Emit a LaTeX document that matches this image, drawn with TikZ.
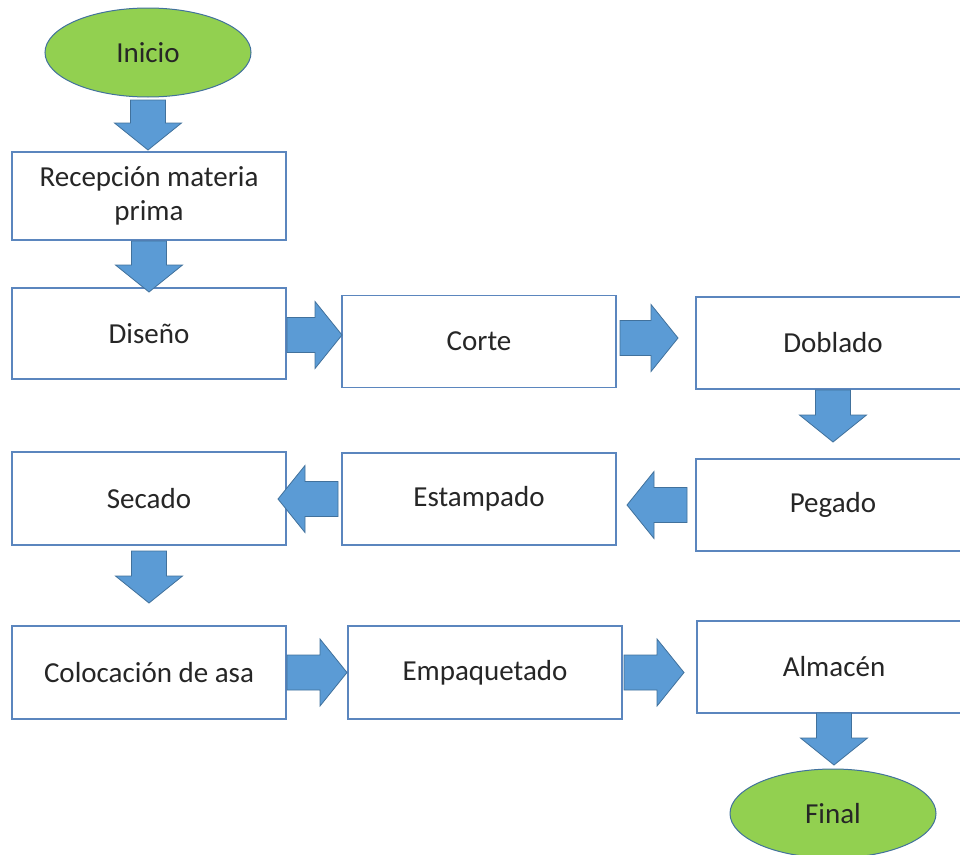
\documentclass[tikz,border=0pt]{standalone}
\usepackage{fontspec}
\setmainfont{Carlito}
\usetikzlibrary{positioning}
\usetikzlibrary{calc}
\usetikzlibrary{shapes.geometric}

\definecolor{boxedge}{HTML}{5B86BE}
\definecolor{arrowblue}{HTML}{5B9BD5}
\definecolor{arrowedge}{HTML}{41719C}
\definecolor{termgreen}{HTML}{92D050}

\tikzset{
    gap start/.store in=\gapstart, gap end/.store in=\gapend,
    gap start=0, gap end=0,
    box/.style={rectangle, draw=boxedge, line width=1.3pt, fill=white, minimum width=274pt, minimum height=92pt, inner sep=0pt, outer sep=0pt, align=center, text=black!85},
    term/.style={ellipse, draw=arrowedge, line width=1pt, fill=termgreen, minimum width=206pt, minimum height=89pt, inner sep=0pt, outer sep=0pt, text=black!85},
    blockarrow/.style={draw=arrowedge, fill=arrowblue, line width=0.8pt,
        to path={let \p1=(\tikztostart), \p2=(\tikztotarget),
            \n1={atan2(\y2-\y1,\x2-\x1)}, \n2={veclen(\x2-\x1,\y2-\y1)} in
            ([shift={(\p1)},rotate=\n1]\gapstart,17.5)
            -- ([shift={(\p1)},rotate=\n1]{\n2-\gapend-27},17.5)
            -- ([shift={(\p1)},rotate=\n1]{\n2-\gapend-27},33.5)
            -- ([shift={(\p1)},rotate=\n1]{\n2-\gapend},0)
            -- ([shift={(\p1)},rotate=\n1]{\n2-\gapend-27},-33.5)
            -- ([shift={(\p1)},rotate=\n1]{\n2-\gapend-27},-17.5)
            -- ([shift={(\p1)},rotate=\n1]\gapstart,-17.5)
            -- cycle}}
}

\begin{document}
\begin{tikzpicture}[x=1pt, y=1pt, font=\fontsize{29pt}{34pt}\selectfont]
        \useasboundingbox (0,0) rectangle (960,-854);
        \clip (0,0) rectangle (960,-854);
        \node[term] (inicio) at (148,-52.5) {Inicio};
        \node[box, minimum height=88pt, below = 55pt of inicio, xshift=1pt] (recep) {Recepción materia\\prima};
        \node[box, minimum height=91pt, below = 48pt of recep] (diseno) {Diseño};
        \node[box, right = 56pt of diseno, yshift=-8pt] (corte) {Corte};
        \node[box, right = 80pt of corte, yshift=-1.5pt] (doblado) {Doblado};
        \node[box, below = 70pt of doblado] (pegado) {Pegado};
        \node[box, left = 80pt of pegado, yshift=6pt] (estampado) {Estampado};
        \node[box, minimum height=93pt, left = 56pt of estampado, yshift=0.5pt] (secado) {Secado};
        \node[box, minimum height=93pt, below = 81pt of secado] (coloc) {Colocación de asa};
        \node[box, minimum height=93pt, right = 62pt of coloc] (empaq) {Empaquetado};
        \node[box, right = 75pt of empaq, yshift=5.5pt] (almacen) {Almacén};
        \node[term, below = 56pt of almacen, xshift=-1pt] (final) {Final};
        \draw[blockarrow, gap start=3, gap end=2] (inicio.south) to (inicio.south |- recep.north);
        \draw[blockarrow, gap start=1, gap end=-4] (recep.south) to (recep.south |- diseno.north);
        \draw[blockarrow, gap start=1, gap end=0] ([yshift=-1.5pt]diseno.east) to ([yshift=-1.5pt]diseno.east -| corte.west);
        \draw[blockarrow, gap start=4, gap end=18] ([yshift=3.5pt]corte.east) to ([yshift=3.5pt]corte.east -| doblado.west);
        \draw[blockarrow, gap start=1, gap end=17] (doblado.south) to (doblado.south |- pegado.north);
        \draw[blockarrow, gap start=9, gap end=11] (pegado.west) to (pegado.west -| estampado.east);
        \draw[blockarrow, gap start=4, gap end=-8] (estampado.west) to (estampado.west -| secado.east);
        \draw[blockarrow, gap start=6, gap end=23] (secado.south) to (secado.south |- coloc.north);
        \draw[blockarrow, gap start=1, gap end=1] (coloc.east) to (coloc.east -| empaq.west);
        \draw[blockarrow, gap start=2, gap end=13] (empaq.east) to (empaq.east -| almacen.west);
        \draw[blockarrow, gap start=0, gap end=4] (almacen.south) to (almacen.south |- final.north);
\end{tikzpicture}
\end{document}
